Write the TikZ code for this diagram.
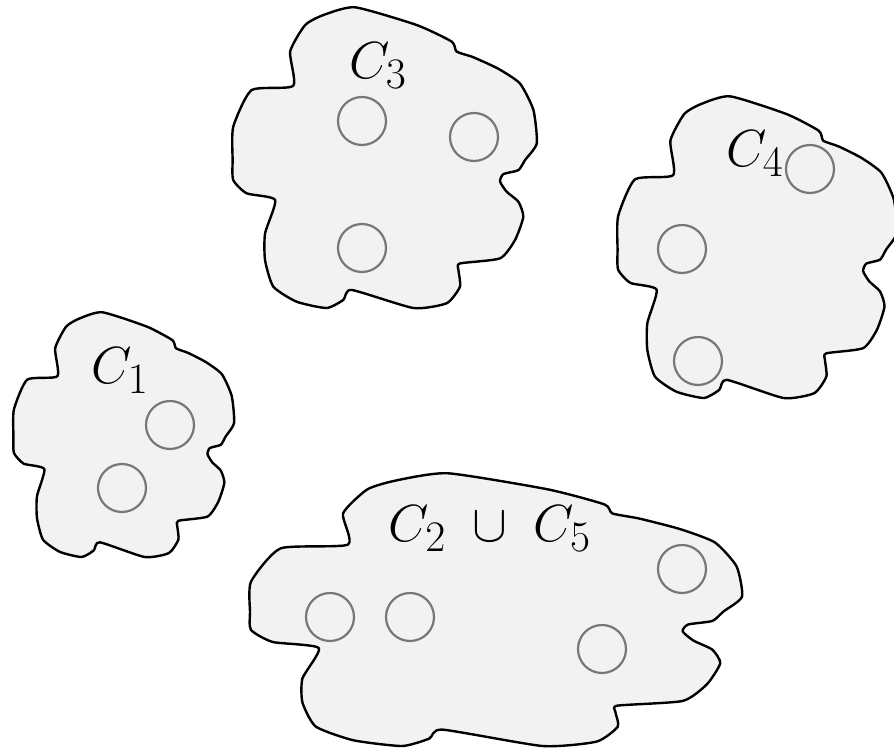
\documentclass[tikz,border=0pt]{standalone}
\usepackage{amsmath, amssymb}
\usepackage{graphicx}
\usepackage{tikz}
\usetikzlibrary{positioning}
\usepackage{xcolor}

\definecolor{blobfill}{HTML}{F2F2F2}
\definecolor{dotgray}{HTML}{777777}

\newcommand{\bigmath}[1]{\scalebox{2.1}{\Huge$#1$}}

\tikzset{
  blob/.style={draw=black, fill=blobfill, line width=2.4pt, line join=round},
  member/.style={circle, draw=dotgray, line width=2.2pt, minimum size=48pt, inner sep=0pt},
  clabel/.style={inner sep=0pt},
  % one cloud outline in a 100 x 100 box, stretched for each cluster
  cloud/.pic={
    \draw[blob] plot[smooth cycle, tension=0.35] coordinates {
      (40.2,0.1) (60.4,6.0) (71.8,11.5) (73.4,14.8) (78.9,16.7) (87,20.5)
      (94.1,25.4) (98.5,34.2) (99.6,45.3) (95.8,50.8) (93.6,54.2) (88.7,55.5)
      (87.6,58.0) (89.8,61.4) (93.6,64.7) (95.2,69.7) (92.5,77.4) (87.6,83.5)
      (74.5,85.2) (74.0,87.4) (74.5,92.9) (70.2,98.4) (59.3,100) (39.1,94.0)
      (36.4,97.3) (30.9,100) (21.1,97.9) (13.5,92.9) (10.8,84.1) (10.8,75.2)
      (14.1,64.1) (4.8,61.9) (0.4,57.5) (0.2,50.8) (0.4,39.8) (6.4,27.6)
      (20.0,26.2) (19.0,14.8) (23.9,6.0) (29.8,2.7)
    };
  }
}

\begin{document}
\begin{tikzpicture}[x=1pt, y=-1pt]
  \useasboundingbox (0,0) rectangle (894,747);

  % Cluster outlines
  \pic[xscale=3.06, yscale=3.01] at (232,7)   {cloud};
  \pic[xscale=2.81, yscale=3.02] at (617,96)  {cloud};
  \pic[xscale=2.22, yscale=2.45] at (13,312)  {cloud};
  \pic[xscale=4.95, yscale=2.73] at (249,473) {cloud};

  % Cluster names
  \node[clabel] (l3)  at (378,66)  {\bigmath{C_3}};
  \node[clabel] (l4)  at (755,154) {\bigmath{C_4}};
  \node[clabel] (l1)  at (120,371) {\bigmath{C_1}};
  \node[clabel] (l25) at (490,529) {\bigmath{C_2 \;\cup\; C_5}};

  % Members of C_3
  \node[member] (c31) at (362,121) {};
  \node[member] (c32) at (474,137) {};
  \node[member] (c33) at (362,248) {};

  % Members of C_4
  \node[member] (c41) at (810,169) {};
  \node[member] (c42) at (682,249) {};
  \node[member] (c43) at (698,361) {};

  % Members of C_1
  \node[member] (c11) at (170,425) {};
  \node[member] (c12) at (122,488) {};

  % Members of C_2 and C_5
  \node[member] (c21) at (330,617) {};
  \node[member] (c22) at (410,617) {};
  \node[member] (c51) at (682,569) {};
  \node[member] (c52) at (602,649) {};
\end{tikzpicture}
\end{document}
